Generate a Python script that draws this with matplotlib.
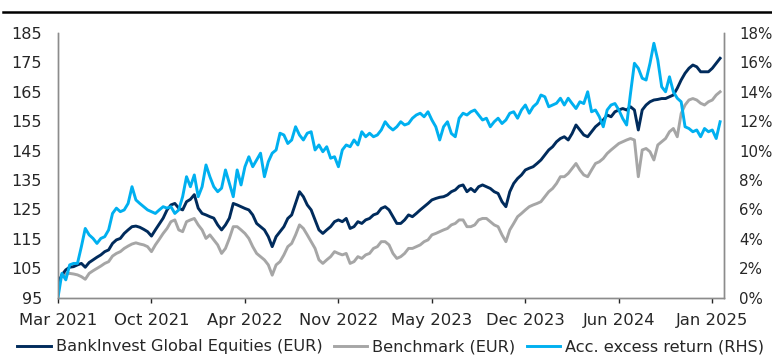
import matplotlib
matplotlib.use("Agg")
import matplotlib.pyplot as plt
from matplotlib.lines import Line2D
from matplotlib.ticker import FuncFormatter

# values on an even grid (24 samples per tick step)
fund = [99.8, 102.7, 104.4, 105.3, 105.5, 106.1, 106.6, 105.3, 106.9, 107.8,
        108.7, 109.5, 110.6, 111.2, 113.4, 114.6, 115.1, 116.8, 118, 119.1,
        119.3, 118.9, 118.2, 117.4, 115.9, 118, 120, 122, 124.8, 126.5,
        127, 125.4, 124.8, 127.6, 128.4, 130, 125.4, 123.6, 123.1, 122.5,
        122, 119.7, 118, 119.7, 122, 127, 126.5, 125.9, 125.3, 124.8,
        123.1, 120.2, 119.1, 118, 115.7, 112.3, 115.7, 117.4, 119.1, 121.9,
        123.1, 127, 131, 129.3, 126.5, 124.8, 121.4, 118, 116.8, 118,
        119.1, 120.8, 121.4, 120.8, 121.9, 118.5, 119.1, 120.8, 120.2, 121.4,
        121.9, 123.1, 123.6, 125.3, 125.9, 124.8, 122.5, 120.2, 120.2, 121.4,
        123.1, 122.5, 123.6, 124.8, 125.9, 127, 128.2, 128.7, 129.1, 129.3,
        129.9, 131, 131.6, 132.9, 133.3, 131, 132.1, 131, 132.7, 133.3,
        132.7, 132.1, 131, 130.4, 127.6, 125.9, 131, 133.8, 135.5, 136.7,
        138.4, 139, 139.5, 140.6, 141.8, 143.5, 145.2, 146.3, 148, 149.1,
        149.7, 148.6, 150.8, 153.7, 152, 150.3, 149.7, 151.4, 153.1, 154.2,
        155.4, 157.1, 156.5, 158.2, 158.8, 159.3, 158.8, 159.9, 158.8, 152,
        158.8, 160.5, 161.6, 162.2, 162.4, 162.7, 162.7, 163.3, 163.9, 166.2,
        169, 171.3, 173, 174.1, 173.5, 171.8, 171.8, 171.8, 173, 174.7,
        176.4]

bench = [99.8, 102.3, 103, 103.2, 103, 102.7, 102.1, 101.2, 103.2, 104.1,
         104.9, 105.7, 106.6, 107.2, 109.1, 110, 110.6, 111.7, 112.5, 113.2,
         113.6, 113.2, 112.9, 112.3, 110.6, 112.9, 114.8, 116.8, 118.5, 120.8,
         121.4, 118, 117.4, 120.8, 121.4, 121.9, 119.7, 118, 115.1, 116.3,
         114.6, 112.9, 110, 111.7, 115.1, 119.1, 119.1, 118, 116.8, 115.1,
         112.3, 110, 108.9, 107.8, 106.1, 102.6, 106.1, 107.2, 109.5, 112.3,
         113.4, 116.3, 119.7, 118.5, 116.3, 114, 111.7, 107.8, 106.6, 107.8,
         108.9, 110.6, 110, 109.5, 110, 106.6, 107.2, 108.9, 108.3, 109.5,
         110, 111.7, 112.3, 114, 114, 112.9, 110, 108.3, 108.9, 110,
         111.7, 111.7, 112.3, 112.9, 114, 114.6, 116.3, 116.8, 117.4, 118,
         118.5, 119.7, 120.2, 121.4, 121.4, 119.1, 119.1, 119.7, 121.4, 121.9,
         121.9, 120.8, 119.7, 119.1, 116.3, 114, 118, 120.2, 122.5, 123.6,
         124.8, 125.9, 126.5, 127, 127.6, 129.3, 131, 132.1, 133.8, 136.1,
         136.1, 137.2, 138.9, 140.6, 138.4, 136.7, 136.1, 138.4, 140.6, 141.2,
         142.3, 144, 145.2, 146.3, 147.4, 148, 148.6, 149.1, 148.6, 136.1,
         145.2, 145.7, 144.6, 141.8, 146.9, 148, 149.1, 151.4, 152.5, 149.7,
         157.6, 160.5, 162.2, 162.7, 162.2, 161.1, 160.5, 161.6, 162.2, 163.9,
         165]

# accumulated excess return in %
excess = [0, 1.64, 1.2, 2.22, 2.32, 2.32, 3.46, 4.7, 4.26, 4.02,
          3.68, 4.02, 4.14, 4.6, 5.72, 6.08, 5.84, 5.96, 6.4, 7.54,
          6.64, 6.4, 6.18, 5.96, 5.84, 5.72, 5.96, 6.18, 6.08, 6.18,
          5.72, 5.96, 6.86, 8.22, 7.54, 8.34, 6.86, 7.54, 9.02, 8.22,
          7.54, 7.2, 7.44, 8.68, 7.78, 6.86, 8.68, 7.66, 8.9, 9.58,
          8.9, 9.36, 9.82, 8.22, 9.24, 9.82, 10.04, 11.18, 11.06, 10.48,
          10.72, 11.62, 11.06, 10.72, 11.18, 11.28, 10.04, 10.38, 9.92, 10.26,
          9.48, 9.58, 8.9, 10.04, 10.38, 10.26, 10.72, 10.38, 11.28, 10.94,
          11.18, 10.94, 11.06, 11.4, 11.96, 11.62, 11.4, 11.62, 11.96, 11.74,
          11.84, 12.2, 12.42, 12.54, 12.3, 12.64, 12.08, 11.62, 10.72, 11.62,
          11.96, 11.16, 10.94, 12.2, 12.54, 12.42, 12.64, 12.76, 12.42, 12.08,
          12.2, 11.62, 11.96, 12.2, 11.84, 12.08, 12.54, 12.64, 12.2, 12.76,
          13.1, 12.54, 12.98, 13.22, 13.78, 13.66, 12.98, 13.1, 13.22, 13.56,
          13.1, 13.56, 13.2, 12.86, 13.32, 13.2, 14.0, 12.64, 12.76, 12.3,
          11.62, 12.76, 13.1, 13.2, 12.76, 12.18, 11.74, 13.9, 15.94, 15.6,
          14.92, 14.8, 15.94, 17.3, 16.16, 14.34, 14.0, 15.02, 14.0, 13.56,
          13.32, 11.62, 11.5, 11.28, 11.4, 10.94, 11.5, 11.28, 11.4, 10.82,
          11.96]

tick_labels = ["Mar 2021", "Oct 2021", "Apr 2022", "Nov 2022",
               "May 2023", "Dec 2023", "Jun 2024", "Jan 2025"]
names = ["BankInvest Global Equities (EUR)", "Benchmark (EUR)",
         "Acc. excess return (RHS)"]

navy = "#002b5c"
grey = "#a6a6a6"
blue = "#00b0f0"
txt = "#262626"
spine_c = "#8c8c8c"

plt.rcParams["font.family"] = ["DejaVu Sans"]
plt.rcParams["font.size"] = 11

fig = plt.figure(figsize=(7.72, 3.56), dpi=100)
W, H = 772, 356
ax = fig.add_axes([58 / W, 1 - 297.5 / H, (724 - 58) / W, (297.5 - 33) / H])
ax2 = ax.twinx()

x = list(range(len(fund)))
ax.plot(x, fund, color=navy, lw=2.1, zorder=3)
ax.plot(x, bench, color=grey, lw=2.1, zorder=2)
ax2.plot(x, excess, color=blue, lw=2.1)

ax.set_xlim(0, 171)
ax.set_ylim(95, 185)
ax2.set_ylim(0, 18)
ax.set_yticks(range(95, 186, 10))
ax2.set_yticks(range(0, 19, 2))
ax2.yaxis.set_major_formatter(FuncFormatter(lambda v, p: f"{v:.0f}%"))
ax.set_xticks(range(0, 170, 24))
ax.set_xticklabels(tick_labels)

for a in (ax, ax2):
    a.spines["top"].set_visible(False)
    for s in ("left", "right", "bottom"):
        a.spines[s].set_color(spine_c)
        a.spines[s].set_linewidth(1)
    a.tick_params(axis="y", length=0, colors=txt)
ax.tick_params(axis="y", pad=11.5, labelsize=11.5)
ax2.tick_params(axis="y", pad=11, labelsize=10.8)
ax.tick_params(axis="x", length=3.5, width=1, colors=txt,
               labelsize=11.8, pad=8)
for t in ax.xaxis.get_ticklines():
    t.set_color(spine_c)

# black rule across the top
fig.add_artist(Line2D([3 / W, 1], [1 - 12 / H, 1 - 12 / H], color="black", lw=1.8))

handles = [Line2D([], [], color=c, lw=2.1) for c in (navy, grey, blue)]
fig.legend(handles, names, loc="center", bbox_to_anchor=(0.506, 1 - 347 / H),
           ncol=3, frameon=False, fontsize=11.6, handlelength=2.1,
           handletextpad=0.3, columnspacing=0.7, labelcolor=txt,
           borderaxespad=0, borderpad=0)

fig.savefig("out.png", dpi=100)
